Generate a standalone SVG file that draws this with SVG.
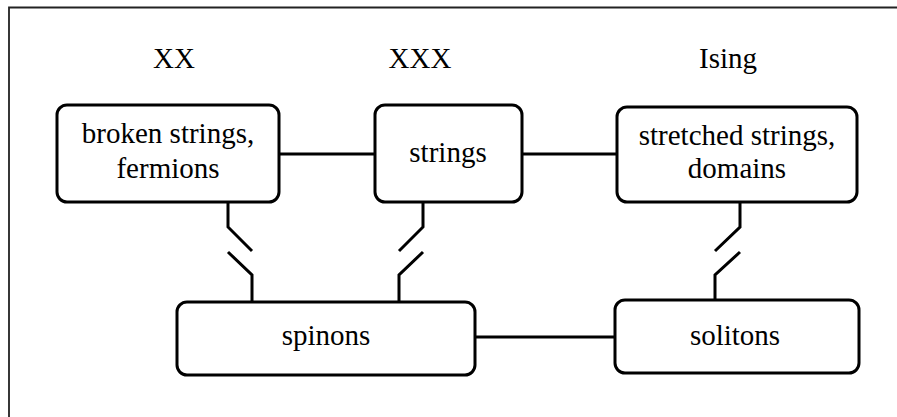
<svg xmlns="http://www.w3.org/2000/svg" width="897" height="417" viewBox="0 0 897 417" font-family="Liberation Serif">
<style>
.box{fill:#fff;stroke:#000;stroke-width:3}
.t{font-size:29px;fill:#000;text-anchor:middle}
.c{fill:none;stroke:#000;stroke-width:3}
</style>
<rect width="897" height="417" fill="#fff"/>
<path d="M9,420 V7.5 H900" fill="none" stroke="#222" stroke-width="1.8"/>
<g id="labels">
<text class="t" x="174" y="68">XX</text>
<text class="t" x="420" y="68">XXX</text>
<text class="t" x="728" y="68">Ising</text>
</g>
<g id="connectors">
<line class="c" x1="279" y1="154" x2="375" y2="154"/>
<line class="c" x1="522" y1="154" x2="617" y2="154"/>
<line class="c" x1="475" y1="337" x2="615" y2="337"/>
<path class="c" d="M228,202 V227 L252,251 M228,252 L252,275 V302"/>
<path class="c" d="M423,202 V227 L399,251 M423,252 L399,275 V302"/>
<path class="c" d="M740,202 V227 L715,251 M740,252 L715,275 V300"/>
</g>
<g id="broken">
<rect class="box" x="57" y="105" width="222" height="97" rx="10"/>
<text class="t" x="168" y="143">broken strings,</text>
<text class="t" x="168" y="178">fermions</text>
</g>
<g id="strings">
<rect class="box" x="375" y="105" width="147" height="97" rx="10"/>
<text class="t" x="448" y="162">strings</text>
</g>
<g id="stretched">
<rect class="box" x="617" y="107" width="240" height="95" rx="10"/>
<text class="t" x="737" y="145">stretched strings,</text>
<text class="t" x="737" y="178">domains</text>
</g>
<g id="spinons">
<rect class="box" x="177" y="302" width="298" height="73" rx="10"/>
<text class="t" x="326" y="345">spinons</text>
</g>
<g id="solitons">
<rect class="box" x="615" y="300" width="244" height="73" rx="10"/>
<text class="t" x="735" y="345">solitons</text>
</g>
</svg>
